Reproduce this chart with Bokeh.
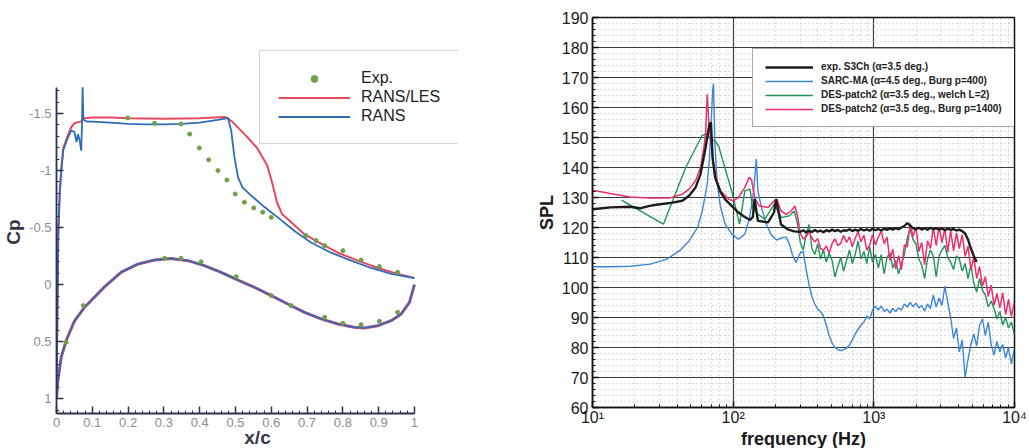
from bokeh.plotting import figure
from bokeh.layouts import row
from bokeh.models import (Range1d, Legend, LegendItem, FixedTicker,
                          SingleIntervalTicker, CustomJSTickFormatter)
from bokeh.embed import file_html
from bokeh.resources import INLINE

FONT = "Liberation Sans"

# ---------------- pressure coefficient along the chord ----------------
upper_x_les = [0, 0.002, 0.005, 0.009, 0.013, 0.019, 0.032, 0.041, 0.05, 0.06,
               0.069, 0.078, 0.1, 0.153, 0.2, 0.3, 0.4, 0.469, 0.479, 0.497,
               0.525, 0.56, 0.588, 0.602, 0.616, 0.63, 0.665, 0.693, 0.739, 0.786,
               0.842, 0.898, 0.953, 1.0]
upper_cp_les = [1.0, 0.4, -0.45, -0.8, -1.0, -1.2, -1.31, -1.38, -1.415, -1.425,
                -1.43, -1.46, -1.465, -1.465, -1.46, -1.455, -1.46, -1.47, -1.46, -1.41,
                -1.32, -1.2, -1.05, -0.9, -0.72, -0.62, -0.52, -0.44, -0.36, -0.28,
                -0.21, -0.146, -0.094, -0.058]

upper_x_rans = [0, 0.002, 0.005, 0.009, 0.013, 0.019, 0.032, 0.041, 0.05, 0.056,
                0.06, 0.065, 0.069, 0.071, 0.073, 0.075, 0.078, 0.085, 0.1, 0.15,
                0.2, 0.25, 0.3, 0.35, 0.4, 0.45, 0.479, 0.488, 0.497, 0.507,
                0.52, 0.544, 0.581, 0.618, 0.665, 0.711, 0.767, 0.823, 0.879, 0.935,
                1.0]
upper_cp_rans = [1.0, 0.4, -0.45, -0.8, -0.99, -1.18, -1.29, -1.35, -1.34, -1.25,
                 -1.32, -1.26, -1.175, -1.38, -1.73, -1.45, -1.44, -1.43, -1.43, -1.42,
                 -1.41, -1.405, -1.405, -1.41, -1.42, -1.445, -1.46, -1.35, -1.12, -0.94,
                 -0.85, -0.78, -0.68, -0.59, -0.47, -0.37, -0.28, -0.21, -0.146, -0.094,
                 -0.058]

lower_x = [0, 0.004, 0.013, 0.027, 0.05, 0.078, 0.106, 0.134, 0.181, 0.227,
           0.274, 0.32, 0.367, 0.413, 0.46, 0.507, 0.553, 0.6, 0.646, 0.693,
           0.739, 0.786, 0.832, 0.86, 0.898, 0.935, 0.963, 0.986, 1.0]
lower_cp = [1.0, 0.84, 0.64, 0.49, 0.32, 0.2, 0.11, 0.02, -0.11, -0.18,
            -0.216, -0.23, -0.21, -0.167, -0.108, -0.04, 0.023, 0.096, 0.17, 0.243,
            0.30, 0.345, 0.374, 0.38, 0.36, 0.316, 0.257, 0.155, 0.0]

exp_x = [0.199, 0.274, 0.348, 0.372, 0.399, 0.425, 0.451, 0.476, 0.499, 0.525,
         0.551, 0.576, 0.6, 0.697, 0.725, 0.749, 0.8, 0.851, 0.902, 0.953,
         0.027, 0.075, 0.302, 0.348, 0.404, 0.502, 0.6, 0.655, 0.749, 0.8,
         0.851, 0.902, 0.953]
exp_cp = [-1.462, -1.415, -1.409, -1.32, -1.199, -1.094, -1.0, -0.918, -0.795, -0.722,
          -0.673, -0.635, -0.59, -0.43, -0.386, -0.342, -0.298, -0.216, -0.158, -0.108,
          0.506, 0.184, -0.231, -0.231, -0.2, -0.07, 0.096, 0.184, 0.287, 0.339,
          0.351, 0.322, 0.243]

cp_ticks_x = [0, 0.1, 0.2, 0.3, 0.4, 0.5, 0.6, 0.7, 0.8, 0.9, 1.0]
cp_ticks_y = [-1.5, -1.0, -0.5, 0, 0.5, 1.0]

# ---------------- sound pressure level spectra ----------------
black_f_lo = [10, 13.4, 18.5, 21.7, 25.5, 28.4, 33.3, 37, 43.5, 48.6,
              54, 58.6, 63.7, 67.8, 69.5, 71.5, 74.4, 81, 87.7, 97.6,
              109, 121, 132, 138, 142, 150, 177, 195, 202, 219,
              244, 272]
black_lo = [126.1, 126.7, 126.9, 126.4, 127.2, 127.6, 128.0, 128.3, 128.9, 130.6,
            133.3, 137.8, 146.7, 154.4, 155.0, 143.0, 136.7, 132.0, 129.4, 127.2,
            125.0, 123.5, 122.5, 123.5, 129.5, 122.2, 121.7, 125.0, 129.4, 121.0,
            119.4, 118.7]

blue_f_lo = [10, 13.4, 18.6, 25.8, 33.5, 41.5, 48.8, 55.8, 60.4, 65.4,
             67.9, 70, 71.6, 72.5, 74, 76.8, 81, 87.7, 98, 109,
             121, 131, 140, 146, 150, 159, 172, 187, 203, 220,
             238, 251, 265, 280, 292]
blue_lo = [106.9, 106.9, 107.1, 107.8, 109.4, 112.2, 115.6, 120.0, 125.6, 134.4,
           143.3, 156.7, 166.0, 168.0, 148.9, 135.6, 127.2, 121.1, 117.8, 116.1,
           117.8, 123.3, 132.2, 142.8, 132.2, 126.7, 121.1, 117.5, 115.8, 116.5,
           116.8, 114.5, 110.5, 108.3, 110.5]

green_f_lo = [16.1, 31.9, 46, 60, 65.4, 68.8, 74.4, 79, 83.2, 97.6,
              111, 121, 132, 137, 150, 168, 196, 219, 251, 272,
              287]
green_lo = [129.1, 121.1, 140.0, 150.6, 151.3, 149.4, 148.9, 147.0, 143.3, 132.2,
            121.1, 132.2, 132.8, 126.7, 124.4, 122.8, 127.8, 123.3, 123.9, 125.5,
            121.1]

pink_f_lo = [10, 13.4, 18.5, 25.5, 35, 43.5, 48.6, 54, 58.6, 62,
             63.7, 65.4, 67, 68.7, 71.5, 76.4, 81.5, 93, 100, 109,
             121, 130, 135, 142, 153, 177, 196, 204, 219, 238,
             258, 275, 287]
pink_lo = [132.4, 131.3, 130.2, 129.8, 129.8, 131.1, 132.8, 135.6, 140.0, 146.7,
           151.7, 164.4, 155.6, 151.0, 143.0, 135.6, 132.2, 129.4, 128.9, 130.0,
           133.3, 136.7, 136.0, 130.0, 127.2, 126.7, 128.9, 129.5, 125.5, 124.4,
           125.5, 127.2, 123.9]

# shared frequency samples above 300 Hz
f_hi = [300, 315, 330, 346, 363, 380, 399, 418, 438, 459,
        481, 505, 529, 555, 582, 610, 640, 671, 703, 737,
        773, 810, 850, 891, 934, 979, 1027, 1077, 1129, 1184,
        1241, 1301, 1364, 1430, 1500, 1572, 1649, 1729, 1812, 1900,
        1993, 2089, 2190, 2297, 2408, 2525, 2647, 2776, 2910, 3051,
        3199, 3354, 3517, 3687, 3866, 4053, 4250, 4456, 4672, 4898,
        5136, 5385, 5646, 5919, 6206, 6507, 6823, 7153, 7500, 7864,
        8245, 8645, 9064, 9503, 9964]

black_hi = [118.6, 119.1, 118.4, 118.9, 118.5, 119.2, 118.6, 119.0, 118.4, 119.1,
            118.7, 119.3, 118.8, 119.2, 118.6, 119.1, 118.9, 119.4, 118.8, 119.3,
            118.9, 119.5, 119.0, 119.4, 118.9, 119.6, 119.1, 119.5, 119.0, 119.6,
            119.2, 119.7, 119.3, 119.8, 119.4, 120.0, 120.5, 121.5, 120.6, 119.8,
            119.4, 119.9, 119.3, 119.8, 119.2, 119.9, 119.4, 119.8, 119.3, 119.7,
            119.1, 119.6, 119.2, 119.5, 119.0, 119.3, 118.8, 118.0, 116.0, 113.0,
            110.5, 108.5]

blue_hi = [111.5, 112.0, 106.0, 101.0, 97.0, 94.5, 92.8, 92.0, 90.5, 87.5,
           84.0, 81.5, 80.0, 79.3, 79.0, 79.3, 79.8, 80.8, 82.5, 84.5,
           86.0, 87.5, 88.5, 90.5, 89.5, 92.5, 93.8, 92.5, 93.8, 92.0,
           92.8, 91.5, 93.0, 92.0, 93.2, 92.5, 94.5, 93.5, 95.0, 93.6,
           94.8, 93.2, 94.0, 92.2, 94.5, 93.0, 97.5, 93.5, 96.5, 94.0,
           100.5, 95.0, 90.0, 83.0, 86.5, 78.5, 82.5, 70.0, 76.0, 81.0,
           84.5, 80.5, 87.5, 89.5, 84.0, 88.5, 81.0, 77.5, 82.0, 78.5,
           81.0, 76.5, 80.0, 74.5, 79.5]

green_hi = [115.0, 112.5, 117.5, 121.0, 113.0, 111.0, 114.5, 109.5, 112.5, 108.5,
            111.5, 109.0, 103.5, 107.0, 110.0, 105.5, 109.0, 112.5, 108.0, 111.0,
            115.5, 109.5, 112.0, 108.0, 113.5, 108.5, 111.0, 106.5, 111.0, 104.5,
            110.0, 111.5, 106.5, 109.0, 104.5, 108.0, 111.0, 116.5, 119.5, 116.0,
            114.5, 109.5, 107.5, 103.0, 109.5, 112.5, 110.5, 103.5, 110.5, 112.5,
            114.0, 110.0, 108.5, 106.0, 110.5, 109.5, 105.5, 108.0, 103.0, 107.5,
            101.5, 98.5, 103.0, 99.0, 97.5, 93.5, 95.5, 93.0, 89.5, 92.0,
            87.5, 90.0, 86.5, 88.5, 84.5]

pink_hi = [118.0, 116.2, 117.0, 118.6, 116.5, 115.2, 116.3, 113.0, 112.4, 113.8,
           111.5, 114.6, 116.2, 113.9, 114.8, 117.3, 115.0, 116.9, 113.6, 116.4,
           118.6, 115.2, 117.5, 112.5, 114.0, 117.6, 114.2, 116.9, 118.8, 114.6,
           116.8, 109.0, 112.8, 106.2, 110.6, 106.0, 114.2, 113.5, 121.4, 117.0,
           120.2, 112.0, 115.0, 107.5, 115.6, 113.0, 120.0, 114.0, 120.2, 115.0,
           119.6, 111.8, 119.0, 112.2, 118.2, 113.0, 117.6, 110.4, 113.8, 106.0,
           110.0, 103.0, 107.0, 100.5, 103.6, 97.0, 100.8, 94.0, 98.0, 93.2,
           98.2, 91.0, 96.0, 90.4, 95.0]

spl_ticks_major = [10, 100, 1000, 10000]
spl_ticks_minor = [20, 30, 40, 50, 60, 70, 80, 90,
                   200, 300, 400, 500, 600, 700, 800, 900,
                   2000, 3000, 4000, 5000, 6000, 7000, 8000, 9000]
decade_labels = {10: "10\u00b9", 100: "10\u00b2", 1000: "10\u00b3", 10000: "10\u2074"}

series_labels = ["exp. S3Ch (\u03b1=3.5 deg.)",
                 "SARC-MA (\u03b1=4.5 deg., Burg p=400)",
                 "DES-patch2 (\u03b1=3.5 deg., welch L=2)",
                 "DES-patch2 (\u03b1=3.5 deg., Burg p=1400)"]

# ======================= left: Cp distribution =======================
# the frame is wider/taller than the axes so the legend box can sit beyond them;
# axis bounds keep the axis lines to the data extent
AX = "#2b3252"
p1 = figure(frame_width=402, frame_height=363,
            min_border_left=52, min_border_right=75,
            min_border_top=50, min_border_bottom=35,
            x_range=Range1d(0, 1.123), y_range=Range1d(1.13, -2.053),
            output_backend="svg", toolbar_location=None, frame_align=False,
            background_fill_color="white", border_fill_color="white")
p1.outline_line_color = None
p1.xgrid.visible = False
p1.ygrid.visible = False

p1.xaxis.ticker = FixedTicker(ticks=cp_ticks_x,
                              minor_ticks=[i / 50 for i in range(51)])
p1.yaxis.ticker = FixedTicker(ticks=cp_ticks_y,
                              minor_ticks=[i / 10 - 1.7 for i in range(29)])
p1.xaxis.bounds = (0, 1)
p1.yaxis.bounds = (-1.73, 1.13)
for ax in (p1.xaxis[0], p1.yaxis[0]):
    ax.formatter = CustomJSTickFormatter(code="return String(Math.round(tick * 10) / 10);")
    ax.axis_line_color = AX
    ax.axis_line_width = 1.8
    ax.major_tick_line_color = AX
    ax.major_tick_line_width = 1.5
    ax.major_tick_in = 7
    ax.major_tick_out = 0
    ax.minor_tick_line_color = AX
    ax.minor_tick_in = 3
    ax.minor_tick_out = 0
    ax.major_label_text_font = FONT
    ax.major_label_text_font_size = "13px"
    ax.major_label_text_color = "#8c8c8c"
    ax.axis_label_text_font = FONT
    ax.axis_label_text_font_size = "19px"
    ax.axis_label_text_font_style = "bold"
    ax.axis_label_text_color = "#34384a"
p1.xaxis.axis_label = "x/c"
p1.yaxis.axis_label = "Cp"
p1.xaxis.major_label_standoff = 4
p1.xaxis.axis_label_standoff = -3
p1.yaxis.major_label_standoff = 5
p1.yaxis.axis_label_standoff = 2

RED = "#e8485e"
BLUE = "#2f6cb6"
r_low_les = p1.line(lower_x, lower_cp, line_color=RED, line_width=3)
r_les = p1.line(upper_x_les, upper_cp_les, line_color=RED, line_width=2)
r_low_rans = p1.line(lower_x, lower_cp, line_color=BLUE, line_width=1.8)
r_rans = p1.line(upper_x_rans, upper_cp_rans, line_color=BLUE, line_width=1.8)
r_exp = p1.scatter(exp_x, exp_cp, size=4, color="#6f9e4c")

leg1 = Legend(items=[LegendItem(label="Exp.", renderers=[r_exp]),
                     LegendItem(label="RANS/LES", renderers=[r_les]),
                     LegendItem(label="RANS", renderers=[r_rans])],
              location=(203, 269), padding=18, spacing=1,
              glyph_width=72, glyph_height=17, label_height=17,
              label_standoff=11, margin=0,
              label_text_font=FONT, label_text_font_size="16px",
              label_text_color="#222222",
              border_line_color="#a8a8a8", border_line_width=1,
              background_fill_color="white", background_fill_alpha=1)
p1.add_layout(leg1)

# ======================= right: SPL spectra =======================
p2 = figure(x_axis_type="log", frame_width=422, frame_height=390,
            min_border_left=52, min_border_right=15,
            min_border_top=17, min_border_bottom=41,
            x_range=Range1d(10, 10000), y_range=Range1d(60, 190),
            output_backend="svg", toolbar_location=None, frame_align=False,
            background_fill_color="white", border_fill_color="white")
p2.outline_line_color = "#111111"
p2.outline_line_width = 1.5

xt = FixedTicker(ticks=spl_ticks_major, minor_ticks=spl_ticks_minor)
yt = SingleIntervalTicker(interval=10, num_minor_ticks=5)
p2.xaxis.ticker = xt
p2.yaxis.ticker = yt
p2.xgrid.ticker = xt
p2.ygrid.ticker = yt
p2.xaxis.major_label_overrides = decade_labels
for g in (p2.xgrid[0], p2.ygrid[0]):
    g.grid_line_color = "#3a3a3a"
    g.grid_line_width = 1.2
    g.minor_grid_line_color = "#b8b8b8"
    g.minor_grid_line_dash = "1 3"
    g.minor_grid_line_width = 1

for ax in (p2.xaxis[0], p2.yaxis[0]):
    ax.axis_line_color = "#111111"
    ax.axis_line_width = 1.5
    ax.major_tick_line_color = "#111111"
    ax.major_tick_line_width = 1.5
    ax.major_tick_in = 6
    ax.major_tick_out = 0
    ax.minor_tick_line_color = "#111111"
    ax.minor_tick_in = 3
    ax.minor_tick_out = 0
    ax.major_label_text_font = FONT
    ax.major_label_text_font_size = "16px"
    ax.major_label_text_color = "#1a1a1a"
    ax.axis_label_text_font = FONT
    ax.axis_label_text_font_size = "18px"
    ax.axis_label_text_font_style = "bold"
    ax.axis_label_text_color = "#1a1a1a"
p2.xaxis.axis_label = "frequency (Hz)"
p2.yaxis.axis_label = "SPL"
p2.xaxis.major_label_standoff = 1
p2.xaxis.axis_label_standoff = 0
p2.yaxis.major_label_standoff = 4
p2.yaxis.axis_label_standoff = 2

C_BLACK = "#1c1c1c"
C_BLUE = "#3d86d6"
C_GREEN = "#22925a"
C_PINK = "#ec2f6c"
s_blue = p2.line(blue_f_lo + f_hi, blue_lo + blue_hi, line_color=C_BLUE, line_width=1.4)
s_green = p2.line(green_f_lo + f_hi, green_lo + green_hi, line_color=C_GREEN, line_width=1.4)
s_pink = p2.line(pink_f_lo + f_hi, pink_lo + pink_hi, line_color=C_PINK, line_width=1.5)
s_black = p2.line(black_f_lo + f_hi[:len(black_hi)], black_lo + black_hi,
                  line_color=C_BLACK, line_width=2.4)

leg2 = Legend(items=[LegendItem(label=series_labels[0], renderers=[s_black]),
                     LegendItem(label=series_labels[1], renderers=[s_blue]),
                     LegendItem(label=series_labels[2], renderers=[s_green]),
                     LegendItem(label=series_labels[3], renderers=[s_pink])],
              location=(160, 280), padding=12, spacing=3,
              glyph_width=48, glyph_height=10, label_height=10,
              label_standoff=8, margin=0,
              label_text_font=FONT, label_text_font_size="10px",
              label_text_font_style="bold", label_text_color="#222222",
              border_line_color="#555555", border_line_width=1,
              background_fill_color="white", background_fill_alpha=1)
p2.add_layout(leg2)

layout = row(p1, p2)
open("out.html", "w").write(file_html(layout, INLINE))
